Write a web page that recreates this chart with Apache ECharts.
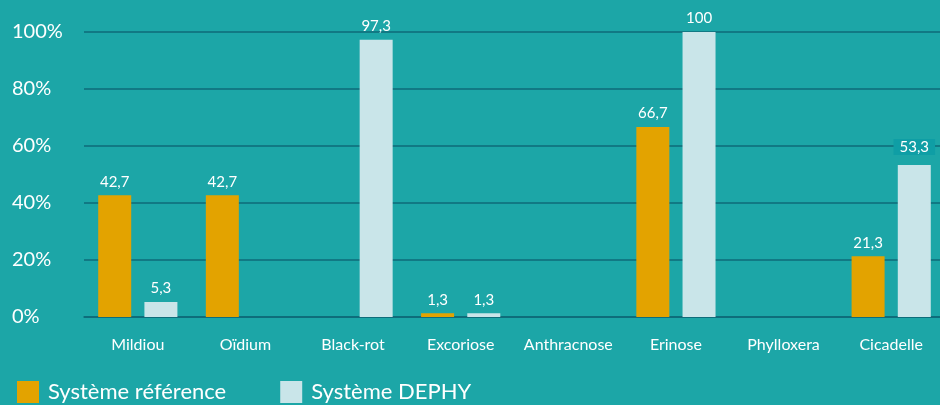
<!DOCTYPE html>
<html>
<head>
<meta charset="utf-8">
<script src="https://cdn.jsdelivr.net/npm/echarts@6/dist/echarts.min.js"></script>
<style>
  html, body { margin: 0; padding: 0; background: #1ca6a7; }
  #chart { width: 940px; height: 405px; }
</style>
</head>
<body>
<div id="chart"></div>
<script>
  // catégories et valeurs (%)
  var categories = ['Mildiou', 'Oïdium', 'Black-rot', 'Excoriose', 'Anthracnose', 'Erinose', 'Phylloxera', 'Cicadelle']
  var reference = [42.7, 42.7, null, 1.3, null, 66.7, null, 21.3]
  var dephy = [5.3, null, 97.3, 1.3, null, 100, null, 53.3]
  var seriesNames = ['Système référence', 'Système DEPHY']

  var font = 'Lato, "Open Sans", sans-serif'
  var fmt = function (p) { return String(p.value).replace('.', ',') }

  var chart = echarts.init(document.getElementById('chart'))
  chart.setOption({
    backgroundColor: '#1ca6a7',
    animation: false,
    grid: { left: 84, width: 861, top: 32, bottom: 88, outerBoundsMode: 'none' },
    legend: {
      data: seriesNames,
      left: 12,
      bottom: -3,
      itemWidth: 22,
      itemHeight: 22,
      itemGap: 54,
      icon: 'rect',
      selectedMode: false,
      textStyle: { color: '#ffffff', fontSize: 22, fontFamily: font, padding: [0, 0, 0, 4] }
    },
    xAxis: {
      type: 'category',
      data: categories,
      axisLine: { lineStyle: { color: '#0e6a78', width: 1.5 } },
      axisTick: { inside: true, length: 8, lineStyle: { color: '#0e6a78', width: 1.5 } },
      axisLabel: { color: '#ffffff', fontSize: 16, fontFamily: font, margin: 20, interval: 0 }
    },
    yAxis: {
      type: 'value',
      min: 0,
      max: 100,
      interval: 20,
      axisLine: { show: false },
      axisTick: { show: false },
      splitLine: { lineStyle: { color: '#0e6a78', width: 1.5 } },
      axisLabel: { color: '#ffffff', fontSize: 20, fontFamily: font, align: 'left', margin: 72, formatter: '{value}%' }
    },
    series: [
      {
        name: seriesNames[0],
        type: 'bar',
        data: reference,
        barWidth: 33,
        barGap: '40%',
        itemStyle: { color: '#e3a300' },
        label: { show: true, position: 'top', distance: 6, color: '#ffffff', fontSize: 15, fontFamily: font, formatter: fmt }
      },
      {
        name: seriesNames[1],
        type: 'bar',
        data: dephy.map(function (v, i) {
          if (categories[i] === 'Cicadelle') {
            return { value: v, label: { backgroundColor: '#0f9ea5', padding: [1, 6, 0, 6], distance: 10 } }
          }
          return v
        }),
        barWidth: 33,
        itemStyle: { color: '#c9e5e9' },
        label: { show: true, position: 'top', distance: 6, color: '#ffffff', fontSize: 15, fontFamily: font, formatter: fmt }
      }
    ]
  })
</script>
</body>
</html>
